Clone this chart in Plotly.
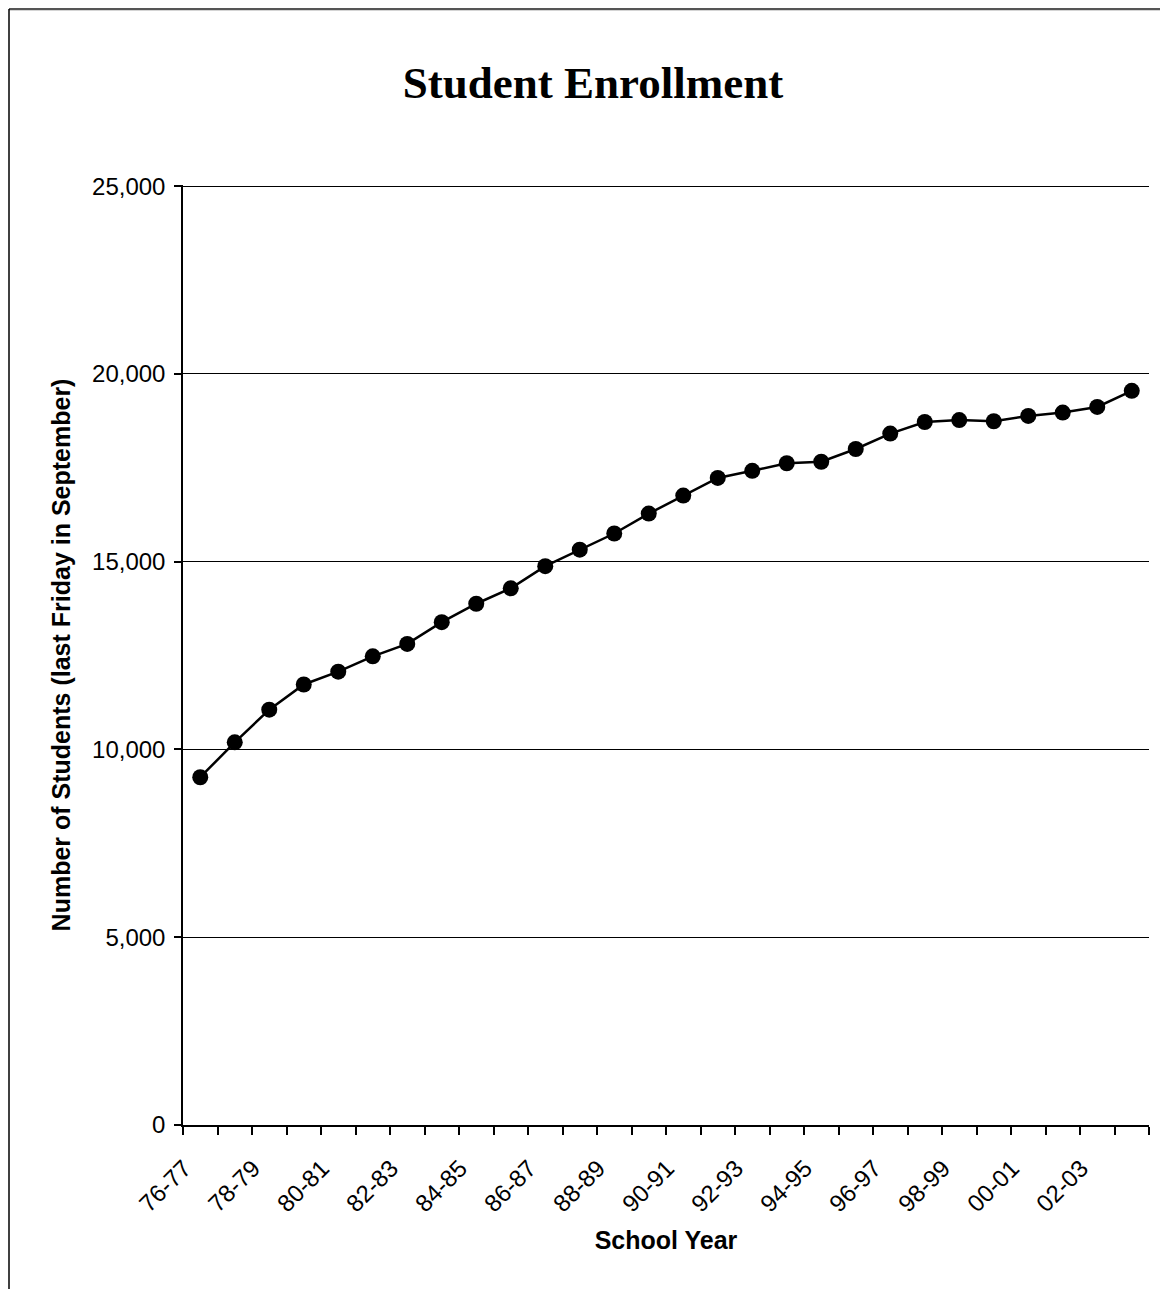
import plotly.graph_objects as go

categories = ["76-77", "77-78", "78-79", "79-80", "80-81", "81-82", "82-83", "83-84",
              "84-85", "85-86", "86-87", "87-88", "88-89", "89-90", "90-91", "91-92",
              "92-93", "93-94", "94-95", "95-96", "96-97", "97-98", "98-99", "99-00",
              "00-01", "01-02", "02-03", "03-04"]
enrollment = [9260, 10190, 11060, 11730, 12070, 12480, 12810, 13390,
              13880, 14290, 14880, 15320, 15750, 16280, 16760, 17230,
              17420, 17620, 17660, 18000, 18410, 18720, 18770, 18740,
              18880, 18970, 19120, 19550]
y_ticks = [0, 5000, 10000, 15000, 20000, 25000]

n = len(categories)
xpos = list(range(n))
label_idx = xpos[::2]
label_txt = [categories[i] for i in label_idx]
boundaries = [i - 0.5 for i in range(n + 1)]

FONT = "Liberation Sans, Arial, sans-serif"
W, H = 1160, 1281
L, R, T, B = 175, 19, 177, 164
PW, PH = W - L - R, H - T - B

fig = go.Figure()
fig.add_trace(go.Scatter(
    x=xpos, y=enrollment, mode="lines+markers",
    line=dict(color="black", width=2.5),
    marker=dict(color="black", size=16, symbol="circle"),
    hovertext=categories, showlegend=False))

fig.update_layout(
    width=W, height=H,
    margin=dict(l=L, r=R, t=T, b=B),
    paper_bgcolor="white", plot_bgcolor="white",
    title=dict(text="<b>Student Enrollment</b>", x=585 / W, xanchor="center",
               y=1 - 74 / H, yanchor="middle",
               font=dict(family="Liberation Serif, Times New Roman, serif", size=45, color="black")),
    font=dict(family=FONT, color="black"),
    xaxis=dict(range=[-0.5, n - 0.5], tickmode="array", tickvals=label_idx, ticktext=label_txt,
               tickangle=-45, ticks="", tickfont=dict(size=24, family=FONT),
               ticklabelstandoff=18, ticklabelshift=-16,
               showline=True, linecolor="black", linewidth=1.5, showgrid=False, zeroline=False,
               minor=dict(tickmode="array", tickvals=boundaries, ticks="outside", ticklen=8,
                          tickcolor="black", tickwidth=1.5, showgrid=False),
               title=dict(text="<b>School Year</b>", font=dict(size=25, family=FONT), standoff=16)),
    xaxis2=dict(range=[-0.5, n - 0.5], overlaying="x", anchor="y", side="bottom",
                tickmode="array", tickvals=boundaries, ticks="inside", ticklen=7,
                tickcolor="black", tickwidth=1.5, showticklabels=False, showgrid=False,
                zeroline=False, showline=False),
    yaxis=dict(range=[0, 25030], tickmode="array", tickvals=y_ticks, tickformat=",",
               ticks="outside", ticklen=7, tickcolor="black", tickwidth=1.5,
               tickfont=dict(size=24, family=FONT), ticklabelstandoff=4,
               showline=True, linecolor="black", linewidth=1.5,
               showgrid=True, gridcolor="black", gridwidth=1, zeroline=False,
               title=dict(text="<b>Number of Students (last Friday in September)</b>",
                          font=dict(size=25, family=FONT), standoff=14)),
)

# outer frame of the original page (top and left edges)
top_y = (PH + T - 1) / PH
left_x = (1 - L) / PW
fig.add_shape(type="line", xref="paper", yref="paper",
              x0=left_x, x1=(W - L) / PW, y0=top_y, y1=top_y,
              line=dict(color="#555555", width=2.5))
fig.add_shape(type="line", xref="paper", yref="paper",
              x0=left_x, x1=left_x, y0=top_y, y1=-B / PH,
              line=dict(color="black", width=1.5))

fig.write_html("out.html")
